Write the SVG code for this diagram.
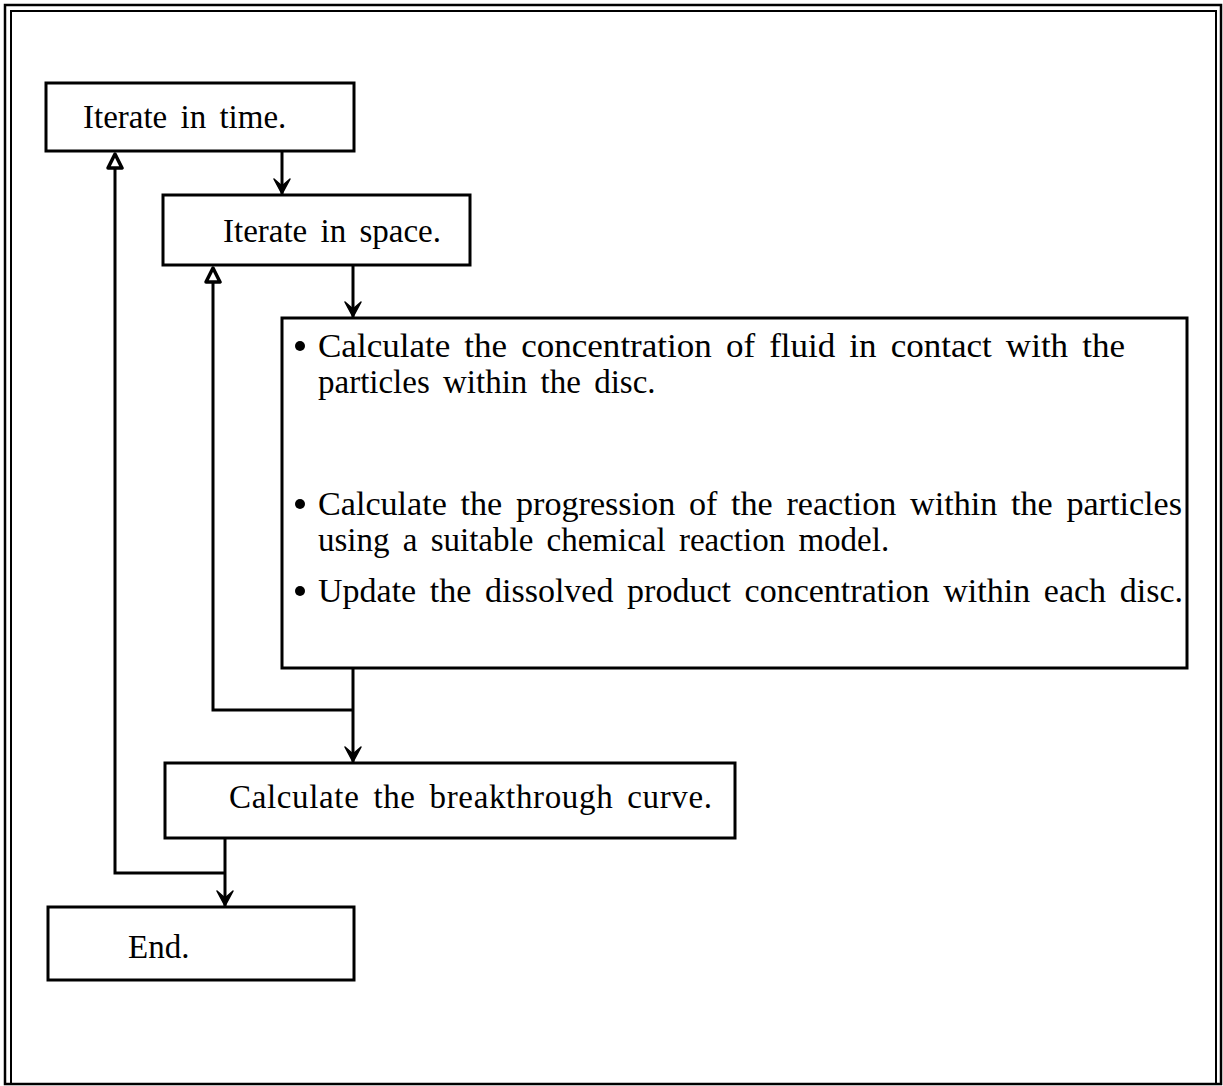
<svg xmlns="http://www.w3.org/2000/svg" width="1223" height="1086" viewBox="0 0 1223 1086">
<style>
.box{fill:#fff;stroke:#000;stroke-width:3}
.t{font-family:"Liberation Serif","Times New Roman",serif;font-size:33px;fill:#000;word-spacing:5px}
.c{fill:none;stroke:#000;stroke-width:3}
.frame{fill:none;stroke:#000}
</style>
<defs>
<marker id="down" markerUnits="userSpaceOnUse" markerWidth="20" markerHeight="20" refX="18" refY="10" orient="auto" viewBox="0 0 20 20">
<path d="M3,2 L18,10 L3,18 L10,10 Z" fill="#000" stroke="#000" stroke-width="1.5" stroke-linejoin="round"/>
</marker>
<marker id="up" markerUnits="userSpaceOnUse" markerWidth="20" markerHeight="20" refX="18" refY="10" orient="auto" viewBox="0 0 20 20">
<path d="M4,3 L18,10 L4,17 Z" fill="#fff" stroke="#000" stroke-width="3.5" stroke-linejoin="round"/>
</marker>
</defs>
<rect class="frame" x="5" y="5" width="1216" height="1079" stroke-width="2.5"/>
<path class="frame" d="M11,1083 V11 H1216 V1083" stroke-width="2"/>

<g id="connectors">
<path class="c" d="M282,151 V194" marker-end="url(#down)"/>
<path class="c" d="M353,265 V317" marker-end="url(#down)"/>
<path class="c" d="M353,668 V762" marker-end="url(#down)"/>
<path class="c" d="M353,710 H213 V268" marker-end="url(#up)"/>
<path class="c" d="M225,838 V906" marker-end="url(#down)"/>
<path class="c" d="M225,873 H115 V154" marker-end="url(#up)"/>
</g>

<g id="n1">
<rect class="box" x="46" y="83" width="308" height="68"/>
<text class="t" x="83" y="128">Iterate in time.</text>
</g>
<g id="n2">
<rect class="box" x="163" y="195" width="307" height="70"/>
<text class="t" x="223" y="242">Iterate in space.</text>
</g>
<g id="n3">
<rect class="box" x="282" y="318" width="905" height="350"/>
<circle cx="300" cy="346" r="5"/>
<text class="t" x="318" y="357" textLength="807" lengthAdjust="spacingAndGlyphs">Calculate  the  concentration  of fluid in contact  with the</text>
<text class="t" x="318" y="393">particles   within the disc.</text>
<circle cx="300" cy="504" r="5"/>
<text class="t" x="318" y="515" textLength="864" lengthAdjust="spacingAndGlyphs">Calculate the progression of the reaction within the particles</text>
<text class="t" x="318" y="551">using a suitable chemical reaction model.</text>
<circle cx="300" cy="591" r="5"/>
<text class="t" x="318" y="602" textLength="865" lengthAdjust="spacingAndGlyphs">Update the dissolved product concentration within each disc.</text>
</g>
<g id="n4">
<rect class="box" x="165" y="763" width="570" height="75"/>
<text class="t" x="229" y="808" textLength="483" lengthAdjust="spacing">Calculate the breakthrough curve.</text>
</g>
<g id="n5">
<rect class="box" x="48" y="907" width="306" height="73"/>
<text class="t" x="128" y="958">End.</text>
</g>
</svg>
